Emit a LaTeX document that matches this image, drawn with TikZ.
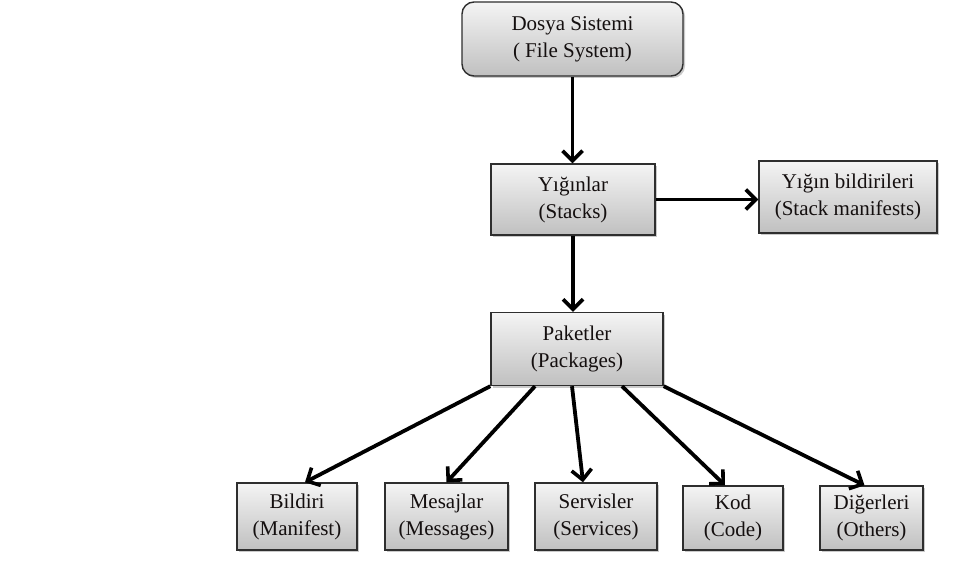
\documentclass[tikz,border=0pt]{standalone}
\usepackage{fontspec}
\setmainfont{Liberation Serif}
\usetikzlibrary{arrows.meta,shadows,positioning}
\definecolor{boxtop}{HTML}{F4F4F4}
\definecolor{boxbot}{HTML}{C0C0C0}
\definecolor{boxline}{HTML}{2E2E2E}
\definecolor{txt}{HTML}{140F0F}
\tikzset{
  box/.style={draw=boxline, line width=1.4pt, top color=boxtop, bottom color=boxbot,
    align=center, inner sep=0pt, text=txt,
    font=\fontsize{21}{27}\selectfont,
    drop shadow={shadow xshift=2pt, shadow yshift=-2pt, opacity=0.35, fill=black!60}},
  rbox/.style={box, rounded corners=12pt},
  conn/.style={line width=3.8pt, black, -{Straight Barb[length=10pt,width=20pt,line width=3.6pt]}}
}
\begin{document}
\begin{tikzpicture}[x=1pt,y=-1pt]
\useasboundingbox (0,0) rectangle (978,583);
\node[rbox, minimum width=221pt, minimum height=74pt] (fs) at (572.5,39) {Dosya Sistemi\\( File System)};
\node[box, minimum width=164pt, minimum height=71pt] (stk) at (573,199.5) {Yığınlar\\(Stacks)};
\node[box, minimum width=178pt, minimum height=72pt] (sman) at (848,197) {Yığın bildirileri\\(Stack manifests)};
\node[box, minimum width=172pt, minimum height=73pt] (pkg) at (577,349) {Paketler\\(Packages)};
\node[box, minimum width=120pt, minimum height=67pt] (man) at (297,516.5) {Bildiri\\(Manifest)};
\node[box, minimum width=123pt, minimum height=67pt] (msg) at (446.5,516.5) {Mesajlar\\(Messages)};
\node[box, minimum width=122pt, minimum height=67pt] (srv) at (596,516.5) {Servisler\\(Services)};
\node[box, minimum width=100pt, minimum height=64pt] (code) at (733,518) {Kod\\(Code)};
\node[box, minimum width=103pt, minimum height=64pt] (oth) at (871.5,518) {Diğerleri\\(Others)};

\draw[conn] (fs.south) -- (fs.south |- stk.north);
\draw[conn] (stk.south) -- (stk.south |- pkg.north);
\draw[conn] (stk.east) -- (stk.east -| sman.west);
\draw[conn] (pkg.south west) -- ([xshift=8pt]man.north);
\draw[conn] ([xshift=-42pt]pkg.south) -- (msg.north);
\draw[conn] ([xshift=-5pt]pkg.south) -- ([xshift=-13pt]srv.north);
\draw[conn] ([xshift=45pt]pkg.south) -- ([xshift=-8pt]code.north);
\draw[conn] (pkg.south east) -- ([xshift=-7pt]oth.north);
\end{tikzpicture}
\end{document}
